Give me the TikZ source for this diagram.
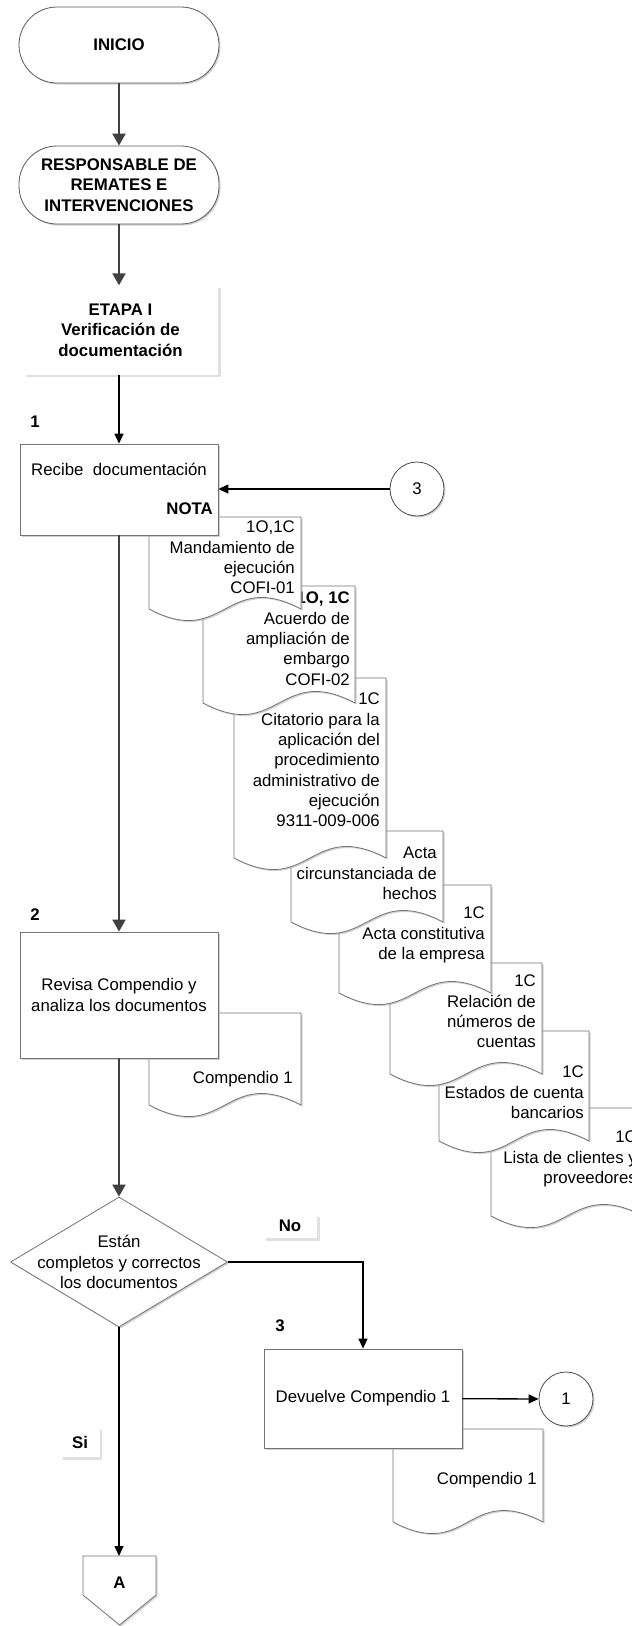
\documentclass[tikz,border=0pt]{standalone}
\usepackage{fontspec}
\setmainfont{Liberation Sans}
\usetikzlibrary{shapes.geometric,arrows.meta,shadows}

% document shape: left, top, right, bottom
\newcommand{\docpath}[4]{(#1,#2) -- (#3,#2) -- (#3,#4) .. controls +(-76,-40) and +(76,40) .. (#1,#4) -- cycle}

\begin{document}
\begin{tikzpicture}[x=1pt,y=-1pt,
  font=\fontsize{16.8}{20.3}\selectfont,
  softshadow/.style={drop shadow={shadow xshift=1.5pt,shadow yshift=-1.5pt,fill=black!30,opacity=.6}},
  term/.style={rectangle,rounded corners=38pt,draw=black!65,line width=.8pt,fill=white,softshadow,
    minimum width=200pt,inner sep=0pt,align=center,font=\fontsize{16.8}{20.3}\selectfont\bfseries},
  proc/.style={rectangle,draw=black!55,line width=.8pt,fill=white,softshadow,minimum width=198pt,inner sep=0pt},
  doc/.style={draw=black!55,line width=.8pt,fill=white,softshadow},
  doctext/.style={anchor=north east,align=right,inner sep=0pt},
  tag/.style={inner sep=0pt,font=\fontsize{16.8}{20.3}\selectfont\bfseries},
  tagbox/.style={tag,fill=white,drop shadow={shadow xshift=2.5pt,shadow yshift=-2.5pt,fill=black!12,opacity=1}},
  conn/.style={circle,draw=black!70,line width=.8pt,fill=white,softshadow,minimum size=54pt,inner sep=0pt},
  flow/.style={draw=black!75,line width=2pt,-{Triangle[length=12pt,width=13pt]}},
  link/.style={black,line width=1.3pt,-{Triangle[length=10pt,width=9pt]}}]
\useasboundingbox (0,0) rectangle (632,1626);

\node[term,minimum height=76pt] (ini) at (119,45) {INICIO};
\node[term,minimum height=78pt] (resp) at (119,185) {RESPONSABLE DE\\REMATES E\\INTERVENCIONES};
\node[tagbox,minimum width=195pt,minimum height=89pt,align=center] (etapa) at (120.5,330) {ETAPA I\\Verificación de\\documentación};

% documentos de la nota
\draw[doc] \docpath{491}{1108}{643}{1216};
\node[doctext] (d8) at (637,1131) {1C\\Lista de clientes y\\proveedores};
\draw[doc] \docpath{439}{1031}{589}{1141};
\node[doctext] (d7) at (584,1066) {1C\\Estados de cuenta\\bancarios};
\draw[doc] \docpath{390}{963}{542}{1074};
\node[doctext] (d6) at (536,975) {1C\\Relación de\\números de\\cuentas};
\draw[doc] \docpath{339}{885}{491}{993};
\node[doctext] (d5) at (485,907) {1C\\Acta constitutiva\\de la empresa};
\draw[doc] \docpath{291}{831}{443}{922};
\node[doctext] (d4) at (437,847) {Acta\\circunstanciada de\\hechos};
\draw[doc] \docpath{234}{678}{386}{858};
\node[doctext] (d3) at (380,693) {1C\\Citatorio para la\\aplicación del\\procedimiento\\administrativo de\\ejecución\\9311-009-006};
\draw[doc] \docpath{203}{586}{355}{703};
\node[doctext] (d2) at (350,592) {\textbf{1O, 1C}\\Acuerdo de\\ampliación de\\embargo\\COFI-02};
\draw[doc] \docpath{149}{517}{301}{609};
\node[doctext] (d1) at (295,521) {1O,1C\\Mandamiento de\\ejecución\\COFI-01};

\node[tag] (n1) at (35,422) {1};
\node[proc,minimum height=91pt] (b1) at (119,489.5) {};
\node (b1txt) at (119,469) {Recibe\ \ documentación};
\node[tag,anchor=east] (nota) at (213,509) {NOTA};
\node[conn] (c3) at (417,489) {3};

\draw[doc] \docpath{149}{1013}{301}{1105};
\node[doctext] (cp1) at (293,1071) {Compendio 1};
\node[tag] (n2) at (35,915) {2};
\node[proc,minimum height=126pt,align=center] (b2) at (119,995) {Revisa Compendio y\\analiza los documentos};

\node[diamond,draw=black!55,line width=.8pt,fill=white,softshadow,minimum width=217pt,minimum height=130pt,inner sep=0pt] (dec) at (119,1262) {};
\node[align=center] (dectxt) at (dec.center) {Están\\completos y correctos\\los documentos};
\node[tagbox,minimum width=54pt,minimum height=24pt] (no) at (290,1226) {No};
\node[tagbox,minimum width=39pt,minimum height=30pt] (si) at (80,1442) {Si};

\node[tag] (n3) at (280,1326) {3};
\draw[doc] \docpath{393}{1429}{543}{1522};
\node[doctext] (cp2) at (537,1472) {Compendio 1};
\node[proc,minimum height=99pt] (b3) at (363,1398.5) {Devuelve Compendio 1};
\node[conn] (c1) at (566,1399) {1};

\draw[doc] (83,1556) -- (156,1556) -- (156,1595) -- (119.5,1625) -- (83,1595) -- cycle;
\node[tag] (offa) at (119.5,1583) {A};
\coordinate (atop) at (119,1556);

\draw[flow] (ini) -- (resp);
\draw[flow] (resp.south) -- (resp.south |- etapa.north);
\draw[link] (b1.north |- etapa.south) -- (b1.north);
\draw[link] (c3) -- (c3 -| b1.east);
\draw[flow] (b1) -- (b2);
\draw[flow] (b2) -- (dec);
\draw[link] (dec.east) -| (b3.north);
\draw[link] (dec.south) -- (atop);
\draw[link] (b3) -- (c1);
\end{tikzpicture}
\end{document}
